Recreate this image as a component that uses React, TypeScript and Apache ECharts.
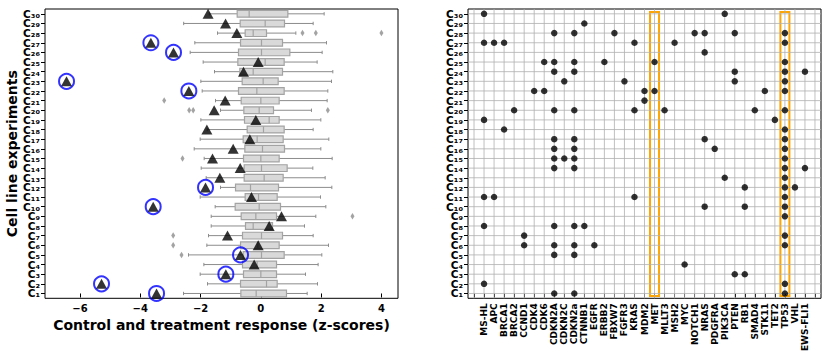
import React, { useEffect, useRef } from 'react';
import * as echarts from 'echarts';

const FONT = 'DejaVu Sans';

const cellLines = ['C1','C2','C3','C4','C5','C6','C7','C8','C9','C10','C11','C12','C13','C14','C15','C16','C17','C18','C19','C20','C21','C22','C23','C24','C25','C26','C27','C28','C29','C30'];

const genes = ['MS-HL','APC','BRCA1','BRCA2','CCND1','CDK4','CDK6','CDKN2A','CDKN2C','CDKN2a','CTNNB1','EGFR','ERBB2','FBXW7','FGFR3','KRAS','MDM2','MET','MLLT3','MSH2','MYC','NOTCH1','NRAS','PDGFRA','PIK3CA','PTEN','RB1','SMAD4','STK11','TET2','TP53','VHL','EWS-FLI1'];

// box statistics per cell line (C1..C30)
const boxMin = [-2.565,-1.769,-2.012,-1.89,-2.4,-1.791,-1.736,-1.647,-1.647,-1.515,-2.012,-1.338,-1.813,-1.979,-1.88,-2.211,-2.012,-1.78,-1.99,-1.338,-1.504,-1.946,-1.99,-1.537,-1.913,-2.344,-2.19,-1.437,-2.56,-1.71];
const boxQ1 = [-0.663,-0.674,-0.575,-0.608,-0.586,-0.674,-0.608,-0.509,-0.652,-0.851,-0.52,-0.84,-0.553,-0.553,-0.575,-0.531,-0.586,-0.453,-0.542,-0.564,-0.652,-0.741,-0.619,-0.697,-0.763,-0.741,-0.674,-0.52,-0.685,-0.785];
const boxMedian = [-0.155,0.188,0.0,-0.122,0.022,-0.1,0.022,-0.254,-0.166,-0.055,-0.077,-0.343,0.11,0.022,0.0,0.055,-0.122,0.088,0.276,-0.055,0.0,-0.133,0.077,-0.254,0.144,0.022,0.022,-0.254,0.144,-0.387];
const boxQ3 = [0.851,0.542,0.52,0.52,0.774,0.608,0.719,0.387,0.52,0.652,0.542,0.586,0.741,0.873,0.608,0.785,0.741,0.774,0.608,0.42,0.608,0.774,0.575,0.719,0.774,0.962,0.719,0.188,0.785,0.896];
const boxMax = [1.537,1.88,1.481,1.9,2.023,2.244,1.736,1.448,1.824,2.156,1.979,2.355,2.134,1.725,2.366,1.99,2.255,1.736,1.99,1.68,2.2,2.222,2.344,2.388,1.868,2.034,2.178,1.161,1.736,2.1];

// treatment response (triangles)
const response = [-3.46,-5.285,-1.161,-0.221,-0.674,-0.088,-1.106,0.276,0.685,-3.571,-0.31,-1.835,-1.36,-0.685,-1.603,-0.918,-0.365,-1.79,-0.166,-1.548,-1.183,-2.388,-6.446,-0.575,-0.088,-2.897,-3.648,-0.796,-1.17,-1.75];

const highlightedLines = ['C1','C2','C3','C5','C10','C12','C22','C23','C26','C27'];

const outlierLines = ['C5','C6','C7','C9','C15','C20','C20','C20','C21','C28','C28','C28'];
const outlierValues = [-2.631,-2.908,-2.908,3.04,-2.598,-2.377,-2.244,2.222,-3.206,1.382,1.824,4.0];

// mutated genes per cell line (C1..C30)
const mutations: string[][] = [
  ['CDKN2A','CDKN2a','TP53'],
  ['MS-HL','TP53'],
  ['PTEN','RB1'],
  ['MYC'],
  ['CDKN2A','CDKN2a'],
  ['CCND1','CDKN2A','CDKN2a','EGFR','TP53'],
  ['CCND1','TP53'],
  ['MS-HL','CDKN2A','CDKN2a','CTNNB1'],
  ['TP53'],
  ['NRAS','RB1','TP53'],
  ['MS-HL','APC','KRAS','TP53'],
  ['RB1','TP53','VHL'],
  ['PIK3CA','TP53'],
  ['CDKN2A','CDKN2a','TP53','EWS-FLI1'],
  ['CDKN2A','CDKN2C','CDKN2a','TP53'],
  ['CDKN2A','CDKN2a','PDGFRA','TP53'],
  ['CDKN2A','CDKN2a','NRAS','TP53'],
  ['BRCA1','TP53'],
  ['MS-HL','TET2'],
  ['BRCA2','CDKN2A','CDKN2a','KRAS','MLLT3','SMAD4','TP53'],
  ['MDM2'],
  ['CDK4','CDK6','MDM2','MET','STK11','TP53'],
  ['CDKN2C','FGFR3','PTEN','TP53'],
  ['CDKN2A','CDKN2a','PTEN','TP53','EWS-FLI1'],
  ['CDK6','CDKN2A','CDKN2a','ERBB2','MET','TP53'],
  ['NRAS'],
  ['MS-HL','APC','BRCA1','KRAS','MSH2','TP53'],
  ['CDKN2A','CDKN2a','FBXW7','NOTCH1','NRAS','PTEN','TP53'],
  ['CTNNB1'],
  ['MS-HL','PIK3CA'],
];

const highlightedGenes = ['MET','TP53'];

const xTicksLeft = [-6, -4, -2, 0, 2, 4];

const SUB = ['\u2080','\u2081','\u2082','\u2083','\u2084','\u2085','\u2086','\u2087','\u2088','\u2089'];
const toSubscriptLabel = (name: string) => 'C' + name.slice(1).split('').map((d) => SUB[+d]).join('');

export default function App() {
  const ref = useRef<HTMLDivElement>(null);
  useEffect(() => {
    if (!ref.current) return;
    const chart = echarts.init(ref.current, null, { renderer: 'svg' });

    const rowIdx = cellLines.map((_, i) => i);
    const geneIdx = genes.map((_, i) => i);
    const gridXs: number[] = [];
    for (let v = -1; v <= genes.length; v++) gridXs.push(v);

    const valueY = (gridIndex: number) => ({
      gridIndex, type: 'value', min: -0.5, max: 29.5,
      splitLine: { show: false }, axisLine: { show: false },
      axisTick: { show: false }, axisLabel: { show: false },
    });
    const labelY = (gridIndex: number) => ({
      gridIndex, type: 'category', data: cellLines, position: 'left', boundaryGap: true,
      splitLine: { show: false }, axisLine: { show: false },
      axisTick: { show: true, length: 4, interval: 0, alignWithLabel: true, lineStyle: { color: '#000' } },
      axisLabel: {
        interval: 0, margin: 5, formatter: (v: string) => toSubscriptLabel(v),
        fontSize: 10.5, lineHeight: 9, fontWeight: 'bold', fontFamily: FONT, color: '#000',
      },
    });

    const boxData = cellLines.map((_, i) => [i, boxMin[i], boxQ1[i], boxMedian[i], boxQ3[i], boxMax[i]]);

    const dots: number[][] = [];
    mutations.forEach((list, i) => list.forEach((g) => dots.push([genes.indexOf(g), i])));

    const option: any = {
      animation: false,
      grid: [
        { left: 45, top: 9, width: 353, height: 289.3, show: true, borderColor: '#000', borderWidth: 1 },
        { left: 468, top: 9, width: 353, height: 289.3, show: true, borderColor: '#000', borderWidth: 1 },
      ],
      xAxis: [
        {
          gridIndex: 0, type: 'value', min: -7.16, max: 4.55,
          splitLine: { show: false }, axisLine: { show: false },
          axisTick: { show: true, length: 4, lineStyle: { color: '#000' }, customValues: xTicksLeft },
          axisLabel: {
            customValues: xTicksLeft, formatter: (v: number) => String(v).replace('-', '\u2212'),
            fontSize: 10, fontWeight: 'bold', fontFamily: FONT, color: '#000', margin: 5,
          },
          name: 'Control and treatment response (z-scores)', nameLocation: 'middle', nameGap: 17,
          nameTextStyle: { fontSize: 14, fontWeight: 'bold', fontFamily: FONT, color: '#000' },
        },
        {
          gridIndex: 1, type: 'value', min: -1.6, max: 33.6,
          splitLine: { show: false }, axisLine: { show: false },
          axisTick: { show: true, length: 4, lineStyle: { color: '#000' }, customValues: gridXs },
          axisLabel: {
            customValues: geneIdx, formatter: (v: number) => genes[Math.round(v)] ?? '', rotate: 90,
            fontSize: 9, fontWeight: 'bold', fontFamily: FONT, color: '#000', margin: 5,
          },
        },
      ],
      yAxis: [
        valueY(0),
        valueY(1),
        {
          ...labelY(0),
          name: 'Cell line experiments', nameLocation: 'middle', nameGap: 24, nameRotate: 90,
          nameTextStyle: { fontSize: 14, fontWeight: 'bold', fontFamily: FONT, color: '#000' },
        },
        labelY(1),
      ],
      series: [
        {
          type: 'custom', xAxisIndex: 0, yAxisIndex: 0, z: 2, silent: true,
          data: boxData,
          encode: { x: [1, 2, 3, 4, 5], y: 0 },
          renderItem: (params: any, api: any) => {
            const y = api.value(0);
            const px = (v: number) => api.coord([v, y])[0];
            const yc = api.coord([0, y])[1];
            const unit = api.size([0, 1])[1];
            const h = unit * 0.7;
            const cap = unit * 0.35;
            const xMin = px(api.value(1)), xQ1 = px(api.value(2)), xMed = px(api.value(3));
            const xQ3 = px(api.value(4)), xMax = px(api.value(5));
            const wStyle = { stroke: '#8c8c8c', lineWidth: 1 };
            const eStyle = { stroke: '#a3a3a3', lineWidth: 1.2 };
            return {
              type: 'group',
              children: [
                { type: 'line', shape: { x1: xMin, y1: yc, x2: xQ1, y2: yc }, style: wStyle },
                { type: 'line', shape: { x1: xQ3, y1: yc, x2: xMax, y2: yc }, style: wStyle },
                { type: 'line', shape: { x1: xMin, y1: yc - cap / 2, x2: xMin, y2: yc + cap / 2 }, style: wStyle },
                { type: 'line', shape: { x1: xMax, y1: yc - cap / 2, x2: xMax, y2: yc + cap / 2 }, style: wStyle },
                { type: 'rect', shape: { x: xQ1, y: yc - h / 2, width: xQ3 - xQ1, height: h }, style: { fill: '#d9d9d9', ...eStyle } },
                { type: 'line', shape: { x1: xMed, y1: yc - h / 2, x2: xMed, y2: yc + h / 2 }, style: eStyle },
              ],
            };
          },
        },
        {
          type: 'scatter', xAxisIndex: 0, yAxisIndex: 0, z: 3, silent: true,
          symbol: 'diamond', symbolSize: [4, 6.5],
          itemStyle: { color: '#8c8c8c' },
          data: outlierLines.map((c, i) => [outlierValues[i], cellLines.indexOf(c)]),
        },
        {
          type: 'scatter', xAxisIndex: 0, yAxisIndex: 0, z: 4, silent: true,
          symbol: 'circle', symbolSize: 15,
          itemStyle: { color: 'rgba(0,0,0,0)', borderColor: '#0000ff', borderWidth: 2 },
          data: highlightedLines.map((c) => { const i = cellLines.indexOf(c); return [response[i], i]; }),
        },
        {
          type: 'scatter', xAxisIndex: 0, yAxisIndex: 0, z: 5, silent: true,
          symbol: 'triangle', symbolSize: [11, 10],
          itemStyle: { color: '#000' },
          data: response.map((v, i) => [v, i]),
        },
        {
          type: 'custom', xAxisIndex: 1, yAxisIndex: 1, z: 1, silent: true,
          data: [...gridXs.map((v) => [0, v]), ...rowIdx.map((v) => [1, v])],
          encode: { x: -1, y: -1 },
          renderItem: (params: any, api: any) => {
            const kind = api.value(0);
            const v = api.value(1);
            const cs = params.coordSys;
            if (kind === 0) {
              const x = api.coord([v, 0])[0];
              return { type: 'line', shape: { x1: x, y1: cs.y, x2: x, y2: cs.y + cs.height }, style: { stroke: '#b0b0b0', lineWidth: 0.8 } };
            }
            const y = api.coord([0, v])[1];
            return { type: 'line', shape: { x1: cs.x, y1: y, x2: cs.x + cs.width, y2: y }, style: { stroke: '#b0b0b0', lineWidth: 0.8 } };
          },
        },
        {
          type: 'scatter', xAxisIndex: 1, yAxisIndex: 1, z: 5, silent: true,
          symbol: 'circle', symbolSize: 6.5,
          itemStyle: { color: '#000' },
          data: dots,
          markArea: {
            silent: true,
            itemStyle: { color: 'rgba(0,0,0,0)', borderColor: '#ffa500', borderWidth: 2 },
            data: highlightedGenes.map((g) => {
              const k = genes.indexOf(g);
              return [{ xAxis: k - 0.45, yAxis: -0.25 }, { xAxis: k + 0.45, yAxis: 29.2 }];
            }),
          },
        },
      ],
    };
    chart.setOption(option);
    return () => chart.dispose();
  }, []);
  return <div ref={ref} style={{ position: 'absolute', left: 0, top: 0, width: 831, height: 357 }} />;
}
